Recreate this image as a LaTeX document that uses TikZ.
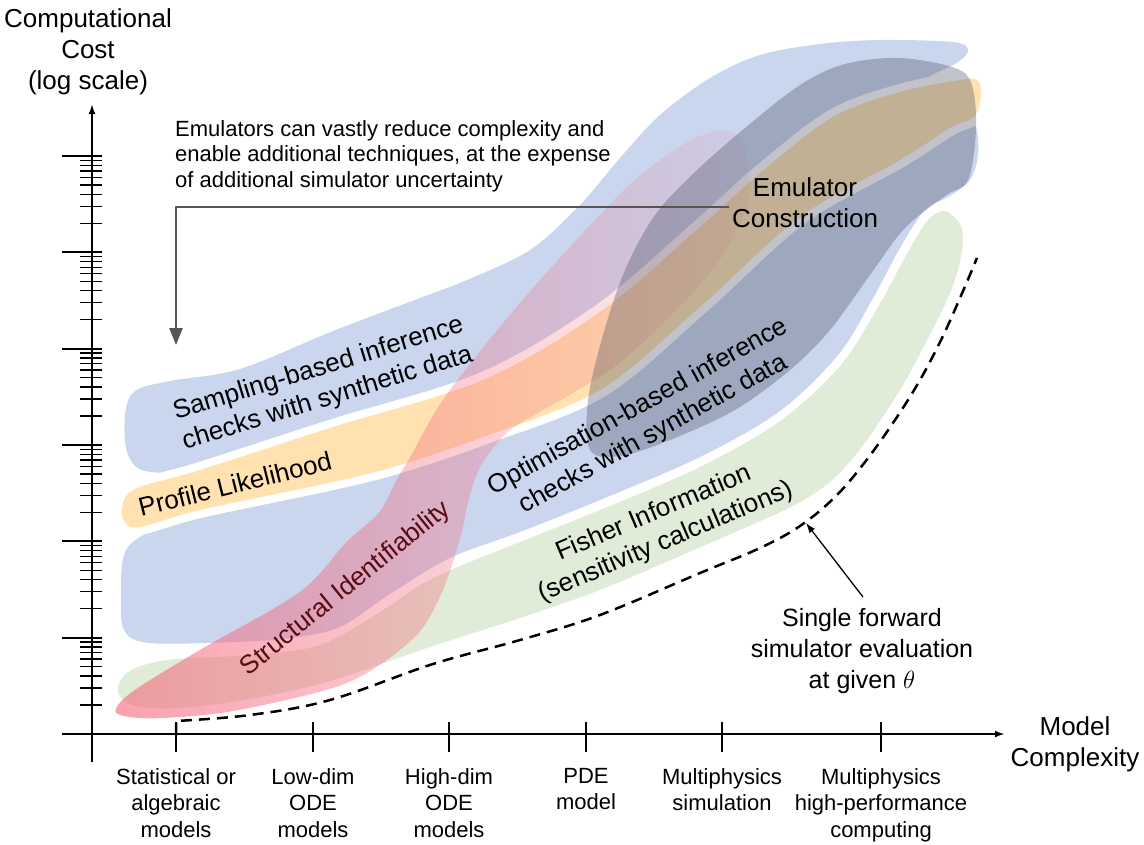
\documentclass[tikz,border=0pt]{standalone}
\usepackage{fontspec}
\setmainfont{Liberation Sans}
\usetikzlibrary{arrows.meta,fadings}
\definecolor{bluec}{RGB}{201,214,238}
\definecolor{orangec}{RGB}{255,226,176}
\definecolor{greenc}{RGB}{224,236,216}
\definecolor{pinkc}{RGB}{245,105,125}
\definecolor{grayc}{RGB}{70,75,95}
\definecolor{structc}{RGB}{90,10,20}
\definecolor{arrowgray}{RGB}{85,85,85}
\tikzfading[name=pinkfade, left color=transparent!38, right color=transparent!92]
\begin{document}
\begin{tikzpicture}[x=1pt,y=-1pt,line join=round,
  lab/.style={font=\fontsize{26}{31}\selectfont, align=center, inner sep=0pt},
  xlab/.style={font=\fontsize{22}{26.5}\selectfont, align=center, inner sep=0pt, anchor=north},
  gap/.style={preaction={draw=white, line width=16pt}},
  axis/.style={line width=2pt, -{Latex[length=10pt,width=7pt]}},
  major/.style={line width=2pt},
  minor/.style={line width=1.4pt},
]
\useasboundingbox (0,0) rectangle (1144,844);
% sampling band
\fill[bluec] plot[smooth cycle, tension=0.55] coordinates {(128,455) (125,415) (135,391) (170,381) (240,369) (333,331) (420,298) (467,280) (530,250) (580,205) (620,158) (660,115) (710,78) (760,55) (820,44) (880,40) (953,42) (968,50) (958,62) (930,76) (880,102) (820,150) (760,205) (700,265) (600,350) (500,398) (400,432) (300,458) (220,468) (150,472)};
% optimisation band
\fill[bluec] plot[smooth cycle, tension=0.55] coordinates {(124,630) (121,590) (124,555) (140,537) (200,505) (333,470) (483,415) (600,355) (700,270) (800,180) (900,128) (955,110) (975,125) (978,155) (970,180) (950,196) (925,210) (900,248) (872,300) (838,355) (780,411) (700,457) (600,500) (520,532) (450,558) (390,594) (340,627) (290,638) (233,642) (150,643)};
% fisher band
\fill[greenc] plot[smooth cycle, tension=0.55] coordinates {(118,692) (128,672) (167,660) (250,655) (320,645) (380,612) (433,578) (520,542) (600,510) (700,467) (780,421) (840,366) (878,307) (908,252) (928,220) (945,211) (961,226) (962,250) (955,280) (940,315) (922,350) (903,385) (882,418) (858,452) (830,482) (795,505) (740,530) (680,556) (600,590) (520,618) (433,646) (330,681) (250,699) (180,708) (135,706)};
% profile likelihood band
\fill[orangec, gap] plot[smooth cycle, tension=0.55] coordinates {(122,508) (135,489) (200,470) (333,427) (483,380) (600,312) (700,227) (760,173) (833,117) (900,92) (960,80) (977,80) (981,93) (975,116) (950,128) (900,160) (800,217) (700,307) (600,390) (483,437) (400,465) (333,482) (200,510) (140,527) (125,522)};
% structural identifiability
\fill[pinkc, path fading=pinkfade] plot[smooth cycle, tension=0.55] coordinates {(116,709) (135,690) (200,650) (300,592) (347,542) (380,512) (397,480) (412,455) (440,405) (480,352) (530,292) (590,226) (640,176) (690,141) (722,130) (742,138) (749,165) (748,205) (722,258) (675,312) (620,363) (575,392) (540,412) (507,433) (482,465) (470,497) (463,530) (452,567) (440,598) (420,632) (380,665) (333,688) (233,711) (160,718) (125,716)};
% emulator construction
\fill[grayc, opacity=0.33] plot[smooth cycle, tension=0.55] coordinates {(590,450) (620,456) (670,440) (735,410) (790,370) (830,330) (870,275) (905,228) (945,196) (968,180) (976,130) (972,85) (955,68) (900,58) (845,64) (800,85) (745,128) (695,172) (655,215) (625,270) (603,335) (588,400)};

% band labels
\node[lab, rotate=17] (samp) at (323,384) {Sampling-based inference\\checks with synthetic data};
\node[lab, rotate=14] (prof) at (235,484) {Profile Likelihood};
\node[lab, rotate=29] (opt) at (646,421) {Optimisation-based inference\\checks with synthetic data};
\node[lab, rotate=23] (fish) at (660,528) {Fisher Information\\(sensitivity calculations)};
\node[lab, rotate=39, text=structc] (struct) at (346,589) {Structural Identifiability};
\node[lab] (emu) at (805,203) {Emulator\\Construction};

% axes
\draw[major] (62,734) -- (92,734);
\draw[axis] (92,762) -- (92,104);
\draw[axis] (62,734) -- (1005,734);
\foreach \d in {1,...,6} \draw[major] (62,{734-96.33*\d}) -- (102,{734-96.33*\d});
\foreach \d in {0,...,5} \foreach \k in {2,...,9} \draw[minor] (80,{734-96.33*\d-96.33*log10(\k)}) -- (102,{734-96.33*\d-96.33*log10(\k)});
\foreach \x in {176,313,449,586,722,881} \draw[minor] (\x,722) -- (\x,752);

\node[lab] (ylab) at (88,52) {Computational\\Cost\\(log scale)};
\node[lab] (xlab) at (1075,744) {Model\\Complexity};

\node[xlab] (l1) at (176,768) {Statistical or\\algebraic\\models};
\node[xlab] (l2) at (313,768) {Low-dim\\ODE\\models};
\node[xlab] (l3) at (449,768) {High-dim\\ODE\\models};
\node[xlab] (l4) at (586,768) {PDE\\model};
\node[xlab] (l5) at (722,768) {Multiphysics\\simulation};
\node[xlab] (l6) at (881,768) {Multiphysics\\high-performance\\computing};

% dashed single forward evaluation
\draw[line width=2.5pt, dash pattern=on 11pt off 7pt] (176,734) -- plot[smooth, tension=0.6] coordinates {(176,721) (250,715) (330,700) (433,664) (520,640) (600,615) (700,573) (760,548) (800,526) (835,497) (865,462) (895,420) (920,380) (942,338) (960,298) (977,258)};
\coordinate (dashpt) at (806,523);
\node[lab, font=\fontsize{25}{31}\selectfont] (single) at (862,651) {Single forward\\simulator evaluation\\at given $\theta$};
\coordinate (sfstart) at (863,597);
\draw[line width=1.3pt, -{Latex[length=10pt,width=7pt]}] (sfstart) -- (dashpt);

% emulator note
\node[font=\fontsize{22}{25.5}\selectfont, align=left, anchor=west, inner sep=0pt] (note) at (175,156) {Emulators can vastly reduce complexity and\\enable additional techniques, at the expense\\of additional simulator uncertainty};
\coordinate (emustart) at (729,207);
\coordinate (emuend) at (176,345);
\draw[arrowgray, line width=2.5pt, -{Triangle[length=17pt,width=13pt]}] (emustart) -| (emuend);
\end{tikzpicture}
\end{document}
